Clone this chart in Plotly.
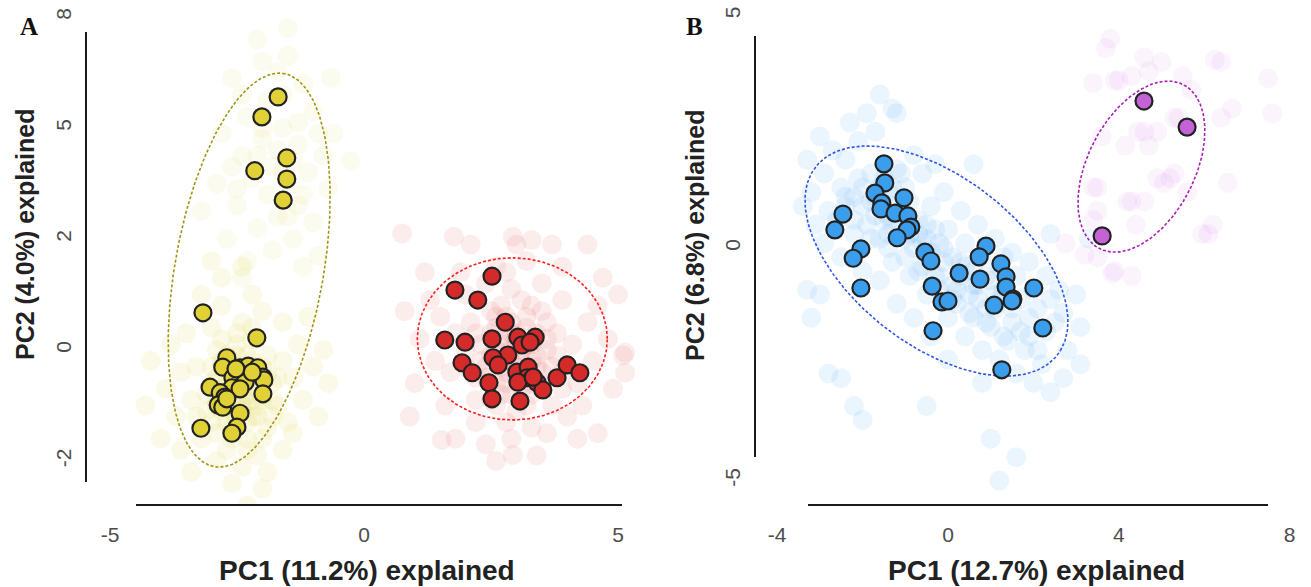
import numpy as np
import plotly.graph_objects as go

W, H = 1311, 587

# ---------------- Panel A data ----------------
a_yellow_x = [-1.69, -2.01, -2.15, -1.52, -1.52, -1.59, -3.17, -2.11, -2.70, -2.78, -2.44, -2.28, -2.09,
              -1.99, -1.97, -2.58, -2.34, -3.03, -2.60, -2.44, -2.83, -2.74, -1.99, -2.87, -2.78,
              -2.70, -2.44, -2.50, -2.60, -3.21, -2.52, -2.20]
a_yellow_y = [4.56, 4.20, 3.23, 3.46, 3.08, 2.70, 0.67, 0.22, -0.14, -0.31, -0.32, -0.29, -0.32,
              -0.49, -0.54, -0.50, -0.58, -0.67, -0.68, -0.70, -0.77, -0.85, -0.79, -0.99, -1.03,
              -0.88, -1.14, -1.39, -1.50, -1.41, -0.34, -0.40]

a_red_x = [2.52, 1.79, 2.24, 2.78, 1.59, 1.99, 2.52, 3.03, 3.37, 3.11, 3.27, 2.83, 2.54, 2.64, 1.93,
           2.13, 3.01, 3.23, 3.21, 3.03, 3.41, 3.52, 3.80, 4.00, 4.25, 2.46, 2.52, 3.07, 3.33]
a_red_y = [1.33, 1.08, 0.90, 0.50, 0.18, 0.14, 0.20, 0.23, 0.23, 0.09, 0.14, -0.09, -0.14, -0.27, -0.23,
           -0.41, -0.40, -0.31, -0.50, -0.58, -0.59, -0.72, -0.50, -0.27, -0.41, -0.59, -0.88, -0.92, -0.49]

a_yellow_bg_top = [(-2.1, 5.6), (-1.5, 5.3), (-2.6, 4.9), (-1.2, 4.8), (-1.9, 4.5), (-2.3, 4.2), (-1.0, 4.3),
                   (-1.6, 4.0), (-2.8, 3.9), (-2.0, 3.8), (-1.3, 3.7), (-0.8, 3.5), (-2.4, 3.5), (-1.8, 3.3),
                   (-1.1, 3.2), (-2.2, 3.1), (-1.5, 3.0), (-2.9, 3.0), (-0.7, 2.9), (-1.9, 2.8), (-1.3, 2.6),
                   (-2.5, 2.6), (-1.7, 2.4), (-1.0, 2.3), (-2.1, 2.2), (-1.4, 2.0), (-2.7, 2.0), (-1.8, 1.8),
                   (-0.9, 1.7), (-2.3, 1.6), (-1.6, 4.6), (-2.0, 4.0), (-1.4, 3.4), (-1.7, 3.6), (-2.6, 3.3),
                   (-1.2, 2.8), (-0.6, 3.9), (-3.2, 2.5), (-1.5, 5.8), (-2.4, 1.3), (-0.65, 4.9), (-0.26, 3.4),
                   (-2.0, 5.2), (-1.7, 5.0), (-2.4, 4.6), (-1.3, 4.1), (-2.1, 3.5), (-1.6, 3.2), (-0.9, 3.9),
                   (-2.5, 2.9), (-1.5, 2.4), (-1.2, 1.5)]

a_yellow_bg_low = [(-2.5, -0.6), (-2.3, -0.4), (-2.7, -0.8), (-2.1, -0.7), (-2.9, -0.5), (-2.4, -1.0), (-2.6, -0.2),
                   (-2.0, -0.3), (-2.8, -1.1), (-2.2, -1.2), (-3.1, -0.8), (-1.8, -0.6), (-2.5, 0.1), (-2.9, 0.0),
                   (-2.1, 0.2), (-3.3, -0.3), (-1.7, -1.0), (-2.6, -1.4), (-3.0, -1.3), (-2.3, -1.6), (-1.9, -1.4),
                   (-3.4, -0.9), (-1.6, -0.2), (-2.4, 0.5), (-3.0, 0.4), (-2.0, 0.7), (-3.6, -0.4), (-1.4, -0.5),
                   (-2.7, -1.8), (-2.1, -1.9), (-3.2, -1.6), (-1.5, -1.3), (-3.7, -1.2), (-1.3, 0.1), (-2.8, 0.8),
                   (-3.5, 0.3), (-2.4, -2.1), (-1.9, -2.2), (-2.9, -2.0), (-3.9, -0.7), (-1.2, -0.9), (-2.2, 1.0),
                   (-3.2, 1.0), (-1.6, 0.5), (-4.0, -1.6), (-4.3, -1.0), (-3.8, 0.1), (-1.0, -0.3), (-0.9, -1.2),
                   (-2.6, -2.4), (-1.6, -1.8), (-3.4, -2.2), (-2.0, -0.9), (-2.6, -0.5), (-2.3, -0.1), (-2.8, -0.3),
                   (-2.5, -1.2), (-2.2, -0.5), (-2.7, -0.1), (-1.9, -0.1), (-2.4, -0.8), (-3.0, -0.6), (-2.1, -1.0),
                   (-2.6, -0.9), (-2.4, -0.3), (-2.9, -0.9), (-1.8, -0.9), (-3.3, -1.2), (-2.2, 0.4), (-1.4, -1.5),
                   (-0.8, 0.0), (-3.6, -1.8), (-2.0, -2.5), (-2.8, 1.3), (-1.1, 0.6), (-4.2, -0.2), (-2.4, 1.5),
                   (-3.0, 1.6), (-0.7, -0.6), (-2.3, -2.8),
                   (-2.5, -0.4), (-2.3, -0.8), (-2.7, -0.6), (-2.2, -0.2), (-2.8, -0.7), (-2.4, -1.1), (-2.6, -0.3),
                   (-2.1, -0.5), (-2.9, -1.0), (-2.3, -1.3), (-2.6, -1.1), (-2.0, -0.8), (-2.5, -0.1), (-2.8, -0.2),
                   (-2.2, -0.9), (-2.4, -0.6), (-2.7, -1.3), (-2.1, -1.2), (-3.0, -0.3), (-1.9, -0.4), (-2.6, -1.6),
                   (-2.3, -1.8), (-2.9, -1.5), (-2.0, -1.6), (-3.1, -1.1), (-1.8, -1.2), (-2.5, 0.3), (-2.2, 0.2),
                   (-2.8, 0.2), (-1.7, -0.5)]

a_red_bg = [(2.9, 0.0), (3.1, -0.2), (2.7, 0.2), (3.3, 0.1), (2.5, -0.1), (3.0, -0.5), (2.8, -0.4), (3.4, -0.3),
            (2.6, 0.4), (3.2, 0.4), (2.3, 0.1), (3.6, 0.0), (2.9, -0.8), (3.5, -0.6), (2.4, -0.5), (2.1, 0.5),
            (3.8, 0.3), (2.7, 0.8), (3.3, 0.8), (2.0, -0.3), (3.9, -0.4), (2.6, -1.0), (3.2, -1.0), (1.8, 0.3),
            (4.1, 0.1), (2.9, 1.1), (2.2, -0.9), (3.7, -1.0), (1.7, -0.4), (4.2, -0.6), (2.4, 1.2), (3.5, 1.2),
            (1.5, 0.6), (4.4, 0.5), (2.8, -1.3), (3.3, -1.4), (1.4, -0.2), (4.5, -0.2), (2.0, 1.0), (3.9, 0.9),
            (2.2, -1.3), (4.0, -1.2), (1.3, 0.9), (4.6, 0.8), (2.6, 1.5), (3.2, 1.6), (1.6, -1.0), (4.3, -1.0),
            (2.9, -1.6), (2.4, -1.7), (3.6, -1.5), (1.1, 0.2), (4.8, 0.2), (1.9, 1.4), (3.9, 1.5), (1.0, -0.6),
            (4.9, -0.7), (2.1, 1.9), (3.0, 1.9), (3.7, 1.9), (1.2, 1.4), (4.7, 1.3), (1.8, -1.6), (4.2, -1.6),
            (0.8, 0.7), (5.1, -0.1), (2.6, -2.0), (3.4, -1.9), (0.75, 2.1), (1.77, 2.04), (2.93, 2.04),
            (3.3, 1.98), (4.4, 1.9), (5.0, 1.0), (0.9, -1.2), (4.6, -1.5), (3.0, 0.3), (2.8, 0.6), (3.1, -0.7),
            (2.6, -0.6), (3.4, -0.1), (3.0, -0.3), (2.7, -0.2), (3.2, 0.1), (2.5, 0.7), (3.6, 0.5), (2.2, -0.5),
            (3.7, -0.3), (2.9, 0.3), (3.3, -0.6), (2.93, -1.89), (1.53, -1.62), (5.14, -0.05), (5.14, -0.41),
            (2.9, -0.2), (3.1, 0.0), (2.8, 0.1), (3.2, -0.4), (2.7, -0.3), (3.0, 0.2), (3.3, -0.2), (2.6, 0.0),
            (3.4, 0.3), (2.8, -0.6), (3.1, -0.5), (2.5, 0.3), (3.5, -0.4), (2.4, -0.3), (3.6, 0.2), (2.9, 0.5),
            (3.2, 0.6), (2.7, -0.8), (3.3, -0.8), (2.3, -0.2), (3.0, -1.1), (2.6, 0.6), (3.8, -0.1), (2.2, 0.3),
            (3.5, 0.7), (2.5, -0.9), (3.9, -0.7), (2.0, 0.0), (3.1, 0.9), (2.8, 1.4)]

# ---------------- Panel B data ----------------
b_blue_x = [-1.50, -1.48, -1.71, -1.55, -1.57, -1.24, -1.03, -0.94, -0.87, -0.96, -1.19, -2.46, -2.65,
            -2.04, -2.22, -2.04, -0.54, -0.40, -0.37, -0.14, 0.00, -0.35, 0.26, 0.89, 0.73, 0.75, 1.24,
            1.36, 1.36, 1.52, 1.50, 1.08, 2.01, 2.22, 1.26]
b_blue_y = [1.81, 1.40, 1.18, 0.97, 0.84, 0.75, 1.08, 0.69, 0.45, 0.39, 0.22, 0.73, 0.39,
            -0.02, -0.22, -0.86, -0.09, -0.28, -0.82, -1.16, -1.14, -1.78, -0.54, 0.04, -0.19, -0.67, -0.34,
            -0.62, -0.84, -1.10, -1.14, -1.23, -0.86, -1.72, -2.62]

b_purple_x = [4.59, 5.60, 3.61]
b_purple_y = [3.16, 2.60, 0.26]

b_blue_bg = [(-3.2, 1.2), (-3.1, 0.5), (-3.3, 1.9), (-2.9, 1.6), (-2.8, 0.8), (-2.9, 0.1), (-2.7, 2.1),
             (-2.5, 1.3), (-2.6, 0.6), (-2.4, 1.9), (-2.5, -0.2), (-2.4, 0.9), (-2.1, 1.5), (-2.2, 0.3),
             (-2.0, 0.9), (-2.1, 2.3), (-2.0, -0.5), (-2.2, 1.1), (-1.7, 0.7), (-1.8, 1.6), (-1.6, 0.2),
             (-1.7, 2.5), (-1.6, -0.7), (-1.8, 1.0), (-1.6, 1.3), (-1.3, 0.9), (-1.4, 0.3), (-1.2, 1.7),
             (-1.3, -0.3), (-1.2, 2.9), (-1.4, 1.2), (-1.3, 0.5), (-1.2, -1.2), (-0.9, 0.6), (-1.0, 1.3),
             (-0.8, 0.0), (-0.9, -0.6), (-0.8, 2.0), (-1.0, 0.2), (-0.9, 1.0), (-0.8, -1.5), (-0.5, 0.2),
             (-0.6, -0.4), (-0.4, 0.9), (-0.5, -1.0), (-0.6, 1.6), (-0.4, -0.1), (-0.5, 0.5), (-0.4, -1.9),
             (-0.1, -0.3), (0.0, 0.4), (-0.2, -0.9), (-0.1, 1.2), (0.0, -1.5), (-0.1, 0.0), (-0.2, -0.6),
             (0.0, -2.4), (0.3, -0.6), (0.4, 0.1), (0.2, -1.2), (0.3, 0.8), (0.4, -1.9), (0.3, -0.3),
             (0.2, -0.9), (0.7, -0.8), (0.8, -0.2), (0.6, -1.5), (0.7, 0.5), (0.8, -2.2), (0.7, -1.1),
             (0.6, -0.5), (0.8, -2.9), (1.1, -1.0), (1.2, -0.4), (1.0, -1.7), (1.1, 0.2), (1.2, -2.4),
             (1.1, -1.3), (1.0, -0.7), (1.5, -1.3), (1.6, -0.6), (1.4, -2.0), (1.5, -0.1), (1.6, -2.7),
             (1.5, -1.6), (1.9, -1.5), (2.0, -0.9), (1.8, -2.2), (1.9, -0.3), (2.0, -2.9), (1.9, -1.9),
             (2.3, -1.8), (2.4, -1.1), (2.2, -2.5), (2.3, -0.6), (2.4, -3.1), (2.7, -1.4), (2.8, -2.2),
             (2.6, -0.9), (2.7, -2.8), (3.1, -1.7), (3.0, -1.0), (3.1, -2.5), (-1.6, 3.3), (-1.3, 3.0),
             (-2.2, -3.4), (-2.5, -2.8), (1.0, -4.1), (1.2, -5.0), (-3.0, -1.0), (-3.3, -0.9), (-0.5, -3.4),
             (2.4, 0.3), (3.3, 0.2), (-3.2, -1.5), (-2.8, -2.7), (-2.0, -3.7), (1.6, -4.5), (0.6, 1.8),
             (-1.4, 0.7), (-1.1, 0.4), (-0.7, 0.3), (0.1, -0.8), (0.5, -1.0), (0.9, -1.3), (1.3, -0.9),
             (-2.4, 1.1), (-2.2, 0.6), (-2.0, 1.3), (-1.9, 0.5), (-1.8, 0.2), (-1.7, 1.1), (-1.5, 0.6),
             (-1.5, 1.5), (-1.4, 0.0), (-1.3, 1.3), (-1.1, 0.8), (-1.0, -0.2), (-1.1, 1.6), (-0.9, 0.3),
             (-0.7, 0.6), (-0.7, -0.5), (-0.6, 0.1), (-0.3, 0.4), (-0.3, -0.6), (-0.2, 0.1), (0.1, -0.2),
             (0.1, -1.1), (0.4, -0.4), (0.5, -1.4), (0.6, -0.8), (0.9, -0.6), (0.9, -1.6), (1.2, -1.1),
             (1.3, -0.2), (1.3, -1.9), (1.7, -1.1), (1.7, -1.8), (2.1, -1.3), (2.1, -2.2), (2.5, -1.6),
             (-3.4, 0.9), (-3.0, 2.4), (-2.3, 2.7), (-1.9, 2.9), (-0.3, 1.8)]

b_purple_bg = [(4.0, 3.6), (4.7, 3.8), (5.5, 3.7), (6.4, 4.0), (7.5, 3.65), (7.6, 2.9), (6.65, 3.0),
               (6.4, 2.8), (5.4, 2.8), (4.6, 2.5), (4.15, 2.2), (4.7, 2.2), (5.2, 1.5), (6.55, 1.4),
               (4.3, 1.0), (3.5, 1.3), (3.4, 0.6), (4.4, 0.5), (6.2, 0.5), (6.1, 0.3), (3.5, -0.2),
               (3.9, -0.5), (4.3, -0.6), (2.75, 0.1), (5.06, 1.4), (4.9, 2.5), (3.8, 4.5), (3.7, 4.3),
               (4.6, 4.1), (5.0, 4.0), (6.25, 4.05), (3.4, 3.55), (3.9, 3.6), (4.3, 3.7), (5.7, 3.4),
               (5.3, 2.8), (4.45, 2.5), (3.6, 2.4), (4.9, 1.5), (5.3, 1.6), (3.4, 1.3), (4.2, 1.0),
               (4.6, 1.0), (3.5, 0.8), (5.95, 0.3), (3.2, -0.15), (3.85, -0.55), (5.6, 1.2)]

# ellipse parameters: centre x, centre y, semi-axis a, semi-axis b, angle (deg)
ell_a_yellow = [-2.26, 1.44, 3.607, 1.457, 78.7]
ell_a_red = [2.92, 0.20, 1.87, 1.46, 0.0]
ell_b_blue = [-0.27, -0.28, 3.484, 1.861, -33.6]
ell_b_purple = [4.53, 1.75, 2.021, 1.228, 58.5]

# tick labels
a_xticks = [-5, 0, 5]
a_xticktext = ["-5", "0", "5"]
a_yticks = [-2, 0, 2, 4, 6]
a_yticktext = ["-2", "0", "2", "5", "8"]
b_xticks = [-4, 0, 4, 8]
b_xticktext = ["-4", "0", "4", "8"]
b_yticks = [-5, 0, 5]
b_yticktext = ["-5", "0", "5"]


def ellipse(p):
    cx, cy, a, b, ang = p
    t = np.linspace(0, 2 * np.pi, 240)
    th = np.deg2rad(ang)
    x = cx + a * np.cos(th) * np.cos(t) - b * np.sin(th) * np.sin(t)
    y = cy + a * np.sin(th) * np.cos(t) + b * np.cos(th) * np.sin(t)
    return x, y


fig = go.Figure()

def bg(pts, color, xa, ya):
    xs = [p[0] for p in pts]
    ys = [p[1] for p in pts]
    fig.add_trace(go.Scatter(x=xs, y=ys, mode="markers", xaxis=xa, yaxis=ya,
                             marker=dict(size=20, color=color, line=dict(width=0)),
                             hoverinfo="skip", showlegend=False))

def ell(p, color, xa, ya):
    ex, ey = ellipse(p)
    fig.add_trace(go.Scatter(x=ex, y=ey, mode="lines", xaxis=xa, yaxis=ya,
                             line=dict(color=color, width=1.6, dash="3px,2px"),
                             hoverinfo="skip", showlegend=False))

def hl(xs, ys, color, xa, ya):
    fig.add_trace(go.Scatter(x=xs, y=ys, mode="markers", xaxis=xa, yaxis=ya,
                             marker=dict(size=17, color=color, line=dict(width=2.2, color="#222222")),
                             showlegend=False))

bg(a_yellow_bg_top, "rgba(215,205,45,0.075)", "x", "y")
bg(a_yellow_bg_low, "rgba(215,205,45,0.11)", "x", "y")
bg(a_red_bg, "rgba(225,60,60,0.09)", "x", "y")
bg(b_blue_bg, "rgba(70,165,245,0.105)", "x2", "y2")
bg(b_purple_bg, "rgba(205,120,225,0.08)", "x2", "y2")

ell(ell_a_yellow, "#A09515", "x", "y")
ell(ell_a_red, "#FF1E1E", "x", "y")
ell(ell_b_blue, "#2F55E0", "x2", "y2")
ell(ell_b_purple, "#A81FB5", "x2", "y2")

hl(a_yellow_x, a_yellow_y, "#E0D236", "x", "y")
hl(a_red_x, a_red_y, "#D42A2A", "x", "y")
hl(b_blue_x, b_blue_y, "#3A9EEC", "x2", "y2")
hl(b_purple_x, b_purple_y, "#C462D6", "x2", "y2")

tickfont = dict(family="Liberation Sans, Arial, sans-serif", size=21, color="#4D4D4D")
common = dict(showgrid=False, zeroline=False, showline=False, ticks="outside",
              tickcolor="rgba(0,0,0,0)", tickfont=tickfont)

def px_x(p):
    return p / W

def px_y(p):
    return 1 - p / H

fig.update_layout(
    width=W, height=H, paper_bgcolor="white", plot_bgcolor="white",
    margin=dict(l=0, r=0, t=0, b=0),
    xaxis=dict(domain=[px_x(86), px_x(650)], range=[-5.472, 5.630], tickvals=a_xticks,
               ticktext=a_xticktext, ticklen=11, anchor="y", **common),
    yaxis=dict(domain=[px_y(505), px_y(5)], range=[-2.793, 6.216], tickvals=a_yticks,
               ticktext=a_yticktext, tickangle=-90, ticklen=6, anchor="x", **common),
    xaxis2=dict(domain=[px_x(755), px_x(1300)], range=[-4.520, 8.244], tickvals=b_xticks,
                ticktext=b_xticktext, ticklen=11, anchor="y2", **common),
    yaxis2=dict(domain=[px_y(505), px_y(5)], range=[-5.527, 5.226], tickvals=b_yticks,
                ticktext=b_yticktext, tickangle=-90, ticklen=6, anchor="x2", **common),
)

line = dict(color="#1a1a1a", width=2)
shapes = [
    dict(type="line", xref="paper", yref="paper", x0=px_x(86), x1=px_x(86), y0=px_y(32), y1=px_y(482), line=line),
    dict(type="line", xref="paper", yref="paper", x0=px_x(136), x1=px_x(622), y0=px_y(505), y1=px_y(505), line=line),
    dict(type="line", xref="paper", yref="paper", x0=px_x(755), x1=px_x(755), y0=px_y(36), y1=px_y(457), line=line),
    dict(type="line", xref="paper", yref="paper", x0=px_x(808), x1=px_x(1268), y0=px_y(505), y1=px_y(505), line=line),
]
fig.update_layout(shapes=shapes)

xfont = dict(family="Liberation Sans, Arial, sans-serif", size=28, color="#222222")
yfont = dict(family="Liberation Sans, Arial, sans-serif", size=25, color="#222222")
annots = [
    dict(text="<b>PC1 (11.2%) explained</b>", x=px_x(367), y=px_y(570), textangle=0, font=xfont),
    dict(text="<b>PC2 (4.0%) explained</b>", x=px_x(25), y=px_y(235), textangle=-90, font=yfont),
    dict(text="<b>PC1 (12.7%) explained</b>", x=px_x(1036), y=px_y(570), textangle=0, font=xfont),
    dict(text="<b>PC2 (6.8%) explained</b>", x=px_x(695), y=px_y(236), textangle=-90, font=yfont),
]
for a in annots:
    fig.add_annotation(xref="paper", yref="paper", showarrow=False, xanchor="center", yanchor="middle", **a)
pfont = dict(family="Liberation Serif, Times New Roman, serif", size=25, color="#111111")
fig.add_annotation(text="<b>A</b>", x=px_x(29), y=px_y(26), xref="paper", yref="paper", showarrow=False,
                   xanchor="center", yanchor="middle", font=pfont)
fig.add_annotation(text="<b>B</b>", x=px_x(694), y=px_y(26), xref="paper", yref="paper", showarrow=False,
                   xanchor="center", yanchor="middle", font=pfont)

fig.write_html("out.html", config={"displayModeBar": False},
               post_script="document.body.style.margin='0px';")
